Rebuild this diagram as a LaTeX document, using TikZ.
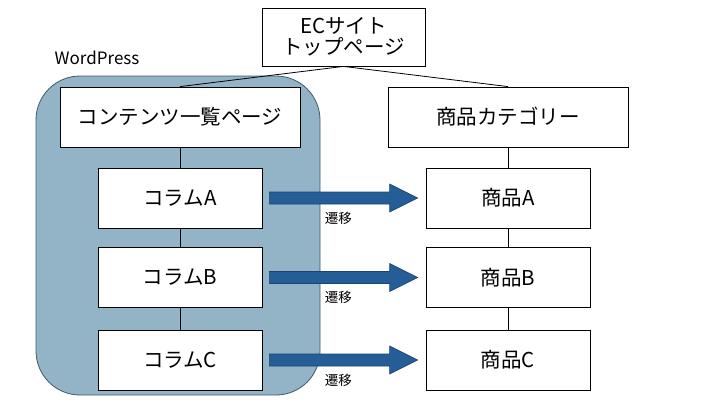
\documentclass[tikz,border=0pt]{standalone}
\usepackage{fontspec}
\setmainfont{Noto Sans CJK JP}
\usepackage{xcolor}
\usetikzlibrary{calc}
\definecolor{wpfill}{HTML}{93B4C6}
\definecolor{wpline}{HTML}{3B5B6B}
\definecolor{flowfill}{HTML}{255E97}
\definecolor{flowline}{HTML}{1B4472}

\begin{document}
\begin{tikzpicture}[x=1pt,y=-1pt]
\tikzstyle{page} =[draw=black, line width=0.8pt, fill=white, minimum width=240pt, minimum height=60pt, font=\fontsize{20.5}{25}\selectfont, inner sep=0pt]
\tikzstyle{item} =[page, minimum width=164pt]
\tikzstyle{flow} =[draw=flowline, line width=0.6pt, fill=flowfill]
\tikzstyle{move} =[font=\fontsize{13.5}{16}\selectfont]
\useasboundingbox (0,0) rectangle (720,405);

% WordPress area
\draw[fill=wpfill, draw=wpline, line width=0.8pt, rounded corners=44pt] (36,76) rectangle (320,395);
\node[font=\fontsize{17}{20}\selectfont](wp) at (97,58){WordPress};

\node[page, minimum width=163pt, minimum height=58pt, align=center](ec) at (343.5,37){ECサイト\\[-4pt]トップページ};
\node[page](list) at (180,117){コンテンツ一覧ページ};
\node[page](cat) at (508,117){商品カテゴリー};

\node[item](colA) at (180,198){コラムA};
\node[item](colB) at (180,277.5){コラムB};
\node[item](colC) at (180,360){コラムC};
\node[item](shopA) at (508,198){商品A};
\node[item](shopB) at (508,277.5){商品B};
\node[item](shopC) at (508,360){商品C};

\draw[line width=0.8pt] (ec.south) -- (list.north);
\draw[line width=0.8pt] (ec.south) -- (cat.north);
\draw[line width=0.8pt] (list) -- (colA) -- (colB) -- (colC);
\draw[line width=0.8pt] (cat) -- (shopA) -- (shopB) -- (shopC);

\foreach \k in {A,B,C}{
  \draw[flow] ($(col\k.east)+(7,-6)$) -- ($(shop\k.west)+(-36,-6)$) -- ++(0,-8)
    -- ($(shop\k.west)+(-8,0)$) -- ($(shop\k.west)+(-36,14)$) -- ++(0,-8)
    -- ($(col\k.east)+(7,6)$) -- cycle;
  \node[move](t\k) at ($(col\k.east)+(76,20)$){遷移};
}
\end{tikzpicture}
\end{document}
